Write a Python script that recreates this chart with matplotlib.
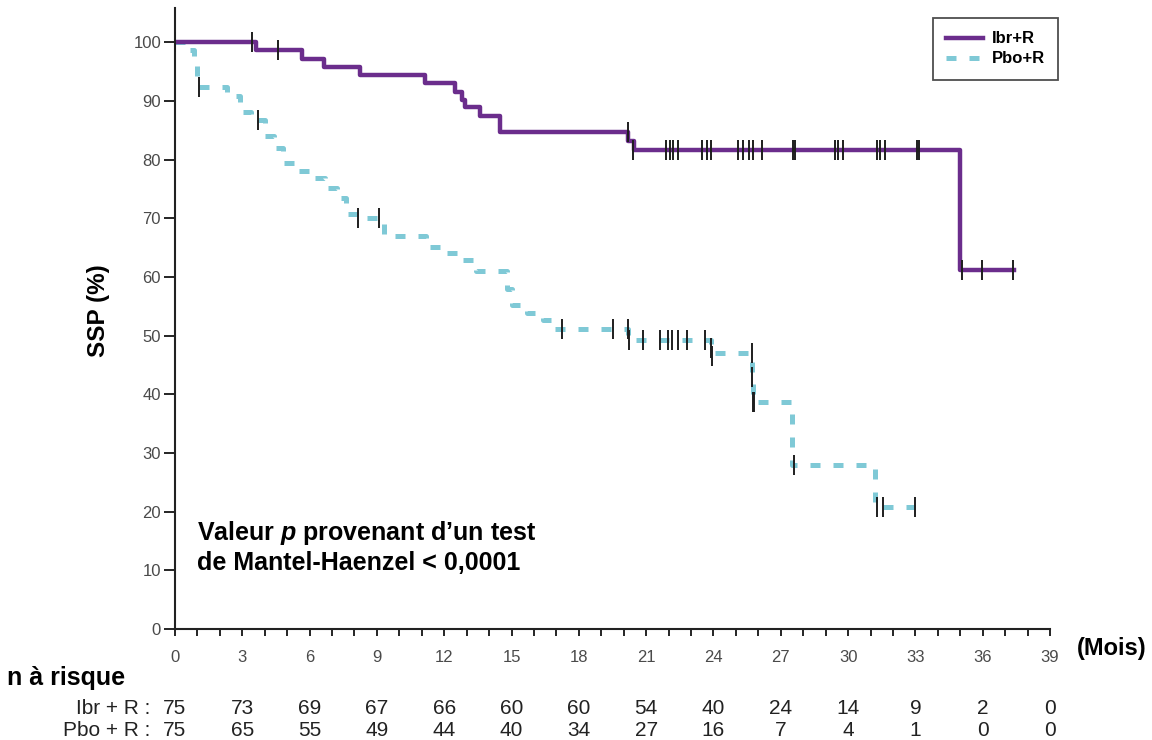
"""Kaplan-Meier survival curves, Ibr+R vs Pbo+R."""

import matplotlib

matplotlib.use("Agg")
import matplotlib.pyplot as plt
from matplotlib.lines import Line2D

plt.rcParams["font.family"] = ["Liberation Sans", "DejaVu Sans"]
plt.rcParams["mathtext.fontset"] = "custom"
plt.rcParams["mathtext.it"] = "Liberation Sans:italic:bold"

# Ibr+R step curve (months, SSP %)
ibr_t = [0, 3.63, 5.65, 6.64, 8.24, 11.14, 12.48, 12.78, 12.92, 13.6, 14.5, 20.2, 20.45, 35.0, 37.4]
ibr_s = [100, 98.6, 97.2, 95.8, 94.4, 93.0, 91.5, 90.1, 88.9, 87.5, 84.7, 83.2, 81.7, 61.2, 61.2]
ibr_cens_t = [0, 3.43, 4.59, 20.2, 20.4, 21.9, 22.05, 22.2, 22.4, 23.47, 23.69, 23.91,
              25.1, 25.33, 25.6, 25.77, 26.14, 27.55, 27.65, 29.4, 29.56, 29.78,
              31.27, 31.42, 31.64, 33.05, 33.15, 35.06, 35.95, 37.35]
ibr_cens_s = [100, 100, 98.6, 84.7, 81.7, 81.7, 81.7, 81.7, 81.7, 81.7, 81.7, 81.7,
              81.7, 81.7, 81.7, 81.7, 81.7, 81.7, 81.7, 81.7, 81.7, 81.7,
              81.7, 81.7, 81.7, 81.7, 81.7, 61.2, 61.2, 61.2]

# Pbo+R step curve
pbo_t = [0, 0.5, 0.85, 1.0, 2.3, 2.9, 3.4, 4.0, 4.4, 4.8, 5.4, 6.2, 6.7, 7.2, 7.6,
         8.3, 9.3, 11.2, 12.0, 12.8, 13.4, 14.8, 15.0, 15.7, 16.4, 16.9, 20.2,
         23.9, 25.7, 25.75, 27.5, 31.2, 33.0]
pbo_s = [100, 98.6, 96.0, 92.4, 90.8, 88.1, 86.7, 84.0, 81.9, 79.4, 78.0, 76.8, 75.1, 73.4, 70.8,
         70.0, 66.9, 65.1, 64.0, 62.9, 61.0, 58.0, 55.2, 53.8, 52.6, 51.2, 49.2,
         47.0, 43.0, 38.7, 27.9, 20.8, 20.8]
pbo_cens_t = [0, 1.07, 3.7, 8.14, 9.09, 17.27, 19.5, 20.2, 20.25, 20.87, 21.6, 21.98,
              22.13, 22.42, 22.8, 23.6, 23.9, 23.95, 25.7, 25.7, 25.75, 25.8,
              27.6, 31.27, 31.56, 32.98]
pbo_cens_s = [100, 92.4, 86.7, 70.0, 70.0, 51.2, 51.2, 51.2, 49.2, 49.2, 49.2, 49.2,
              49.2, 49.2, 49.2, 49.2, 47.8, 46.6, 47.0, 43.0, 38.7, 38.7,
              27.9, 20.8, 20.8, 20.8]

# numbers at risk
risk_months = [0, 3, 6, 9, 12, 15, 18, 21, 24, 27, 30, 33, 36, 39]
ibr_risk = [75, 73, 69, 67, 66, 60, 60, 54, 40, 24, 14, 9, 2, 0]
pbo_risk = [75, 65, 55, 49, 44, 40, 34, 27, 16, 7, 4, 1, 0, 0]

purple = "#6b2d8c"
teal = "#7fc9d6"
mark_color = "#1e1e1e"

fig = plt.figure(figsize=(11.52, 7.40), dpi=100)
ax = fig.add_axes([0.1519, 0.15, 0.7596, 0.839])

ax.step(ibr_t, ibr_s, where="post", color=purple, lw=3.2, zorder=3)
ax.step(pbo_t, pbo_s, where="post", color=teal, lw=3.6,
        linestyle=(0, (2.0, 2.6)), zorder=2)
ax.plot(ibr_cens_t, ibr_cens_s, ls="none", marker="|", ms=14, mew=1.4,
        color=mark_color, zorder=4)
ax.plot(pbo_cens_t, pbo_cens_s, ls="none", marker="|", ms=14, mew=1.4,
        color=mark_color, zorder=4)

ax.set_xlim(0, 39)
ax.set_ylim(0, 105.8)
ax.set_xticks(risk_months)
ax.set_xticks(range(0, 40), minor=True)
ax.set_yticks(range(0, 101, 10))

ax.tick_params(axis="x", which="both", direction="out", length=5, width=1.2,
               pad=10, labelsize=12, labelcolor="#4a4a4a")
ax.tick_params(axis="y", direction="out", length=8, width=1.2, pad=2,
               labelsize=12, labelcolor="#4a4a4a")

for side in ("top", "right"):
    ax.spines[side].set_visible(False)
for side in ("left", "bottom"):
    ax.spines[side].set_linewidth(1.5)
    ax.spines[side].set_color("#222222")

fig.text(98 / 1152, 1 - 311 / 740, "SSP (%)", fontsize=17.5, fontweight="bold",
         rotation=90, va="center", ha="center")

ax.text(1.0, 16.4, r"Valeur $p$ provenant d’un test", fontsize=18,
        fontweight="bold", va="center", ha="left")
ax.text(1.0, 11.2, "de Mantel-Haenzel < 0,0001", fontsize=18,
        fontweight="bold", va="center", ha="left")

handles = [
    Line2D([], [], color=purple, lw=3.2),
    Line2D([], [], color=teal, lw=3.6, linestyle=(0, (2.0, 2.6))),
]
leg = ax.legend(handles, ["Ibr+R", "Pbo+R"], loc="upper right",
                bbox_to_anchor=(1.009, 0.984), borderaxespad=0.0,
                frameon=True, fancybox=False,
                prop={"weight": "bold", "size": 12}, handlelength=2.2,
                borderpad=0.8, labelspacing=0.3, handletextpad=0.5)
leg.get_frame().set_edgecolor("#222222")
leg.get_frame().set_linewidth(1.3)

# x-axis unit and risk table
fig.text(1077 / 1152, 1 - 648 / 740, "(Mois)", fontsize=17, fontweight="bold",
         va="center", ha="left")
fig.text(7 / 1152, 1 - 678 / 740, "n à risque", fontsize=18, fontweight="bold",
         va="center", ha="left")

row_y = [1 - 708 / 740, 1 - 731 / 740]
row_labels = ["Ibr + R :", "Pbo + R :"]
for ypos, lab, vals in zip(row_y, row_labels, [ibr_risk, pbo_risk]):
    fig.text(150 / 1152, ypos, lab, fontsize=15, va="center", ha="right",
             color="#222222")
    for m, v in zip(risk_months, vals):
        xfig = ax.transData.transform((m, 0))[0] / fig.bbox.width
        fig.text(xfig, ypos, str(v), fontsize=15, va="center", ha="center",
                 color="#222222")

fig.savefig("out.png", dpi=100)
plt.close(fig)
